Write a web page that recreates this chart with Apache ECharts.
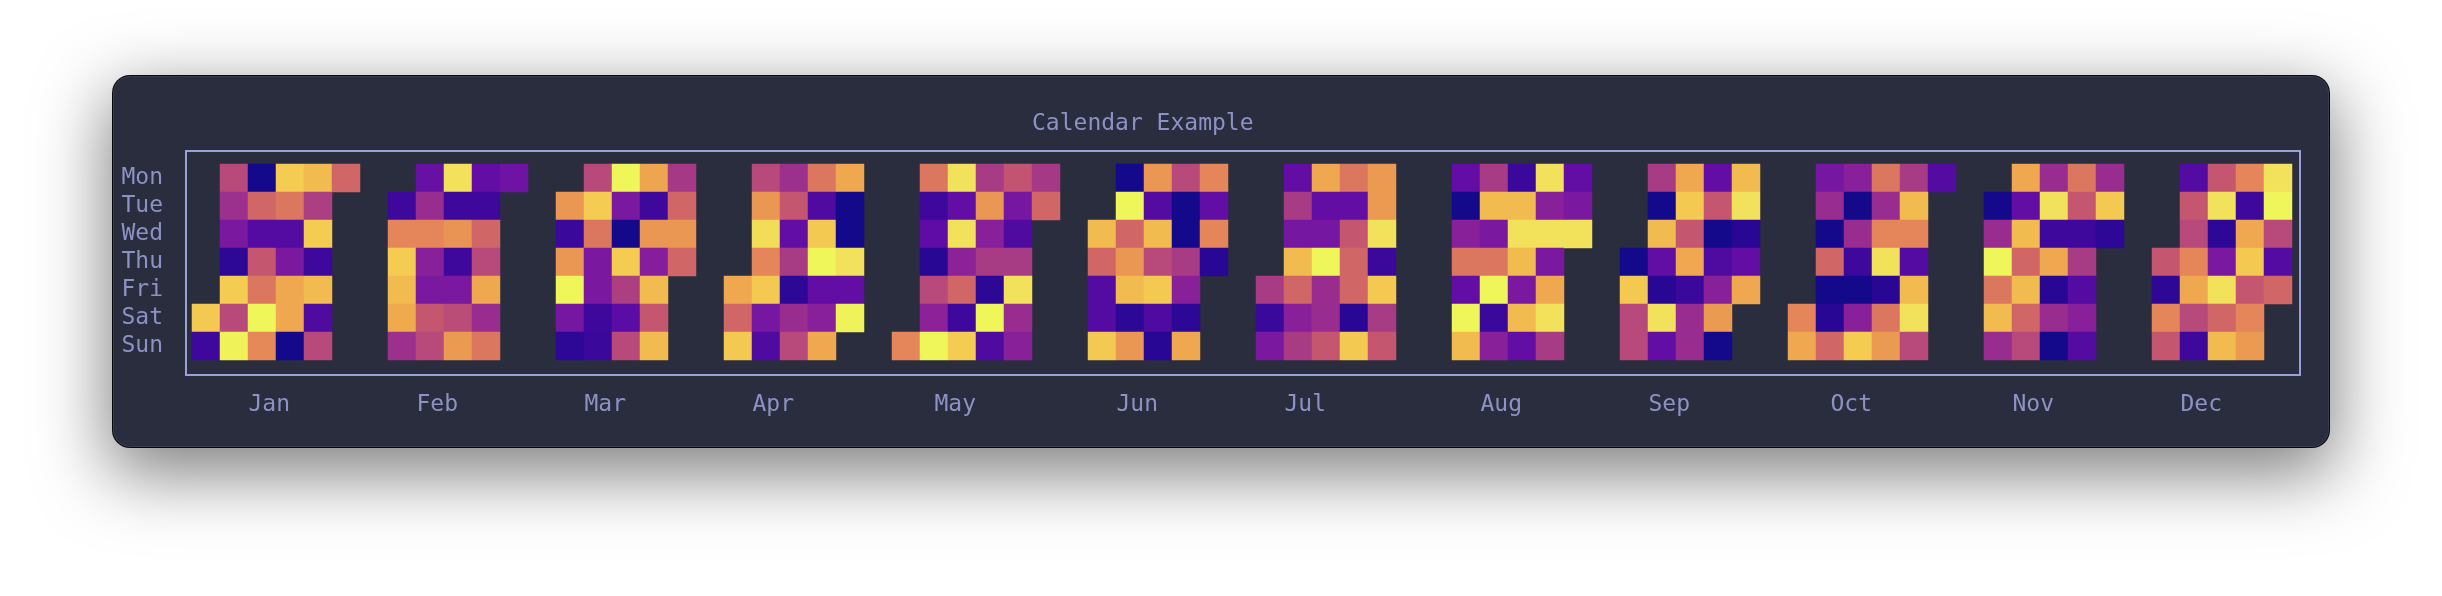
<!DOCTYPE html>
<html>
<head>
<meta charset="utf-8">
<script src="https://cdn.jsdelivr.net/npm/echarts@6/dist/echarts.min.js"></script>
<style>
html, body { margin: 0; padding: 0; background: #ffffff; width: 2442px; height: 596px; overflow: hidden; }
#panel {
  position: absolute; left: 112px; top: 75px; width: 2218px; height: 373px;
  box-sizing: border-box; background: #2a2d3e; border-radius: 18px;
  border: 1px solid rgba(0,0,0,0.8);
  box-shadow: 0 22px 70px 4px rgba(0,0,0,0.5), inset 0 0 0 1px rgba(255,255,255,0.08);
}
#chart { position: absolute; left: 0; top: 0; width: 2442px; height: 596px; }
</style>
</head>
<body>
<div id="panel"></div>
<div id="chart"></div>
<script>
// ---------------- data ----------------
const year = 2022;
const chartTitle = 'Calendar Example';
const monthNames = ['Jan', 'Feb', 'Mar', 'Apr', 'May', 'Jun', 'Jul', 'Aug', 'Sep', 'Oct', 'Nov', 'Dec'];
const weekdayNames = ['Mon', 'Tue', 'Wed', 'Thu', 'Fri', 'Sat', 'Sun'];

// daily values, day 1 .. last day with data
const jan = [89, 12, 46, 37, 27, 8, 90, 46, 99, 2, 57, 17, 51, 63, 100, 69, 90, 63, 17, 27, 79, 79, 2, 85, 42, 90, 12, 85, 16, 46, 57];
const feb = [12, 68, 90, 85, 80, 37, 22, 36, 68, 31, 27, 51, 46, 95, 12, 72, 12, 27, 47, 74, 21, 12, 57, 46, 79, 36, 63, 24];
const mar = [73, 11, 73, 100, 26, 8, 46, 90, 63, 27, 27, 12, 11, 100, 27, 2, 90, 42, 19, 46, 78, 12, 73, 30, 85, 51, 85, 40, 57, 73, 57];
const apr = [79, 57, 89, 46, 73, 94, 68, 89, 26, 16, 37, 51, 21, 41, 8, 36, 46, 63, 16, 89, 100, 21, 31, 79, 79, 2, 2, 95, 21, 99];
const may = [68, 63, 12, 20, 7, 46, 32, 100, 95, 21, 95, 32, 57, 12, 90, 41, 73, 31, 41, 8, 100, 16, 50, 26, 16, 41, 95, 36, 31, 40, 57];
const jun = [85, 57, 17, 17, 89, 2, 100, 57, 73, 85, 8, 73, 73, 17, 85, 46, 89, 16, 7, 46, 2, 2, 41, 31, 8, 79, 68, 21, 68, 7];
const jul = [41, 11, 27, 21, 41, 26, 85, 57, 31, 41, 79, 21, 26, 100, 36, 36, 51, 63, 21, 51, 57, 57, 7, 89, 74, 74, 95, 11, 89, 41, 51];
const aug = [21, 2, 31, 63, 21, 100, 85, 41, 85, 27, 63, 100, 11, 31, 11, 85, 95, 85, 27, 85, 21, 95, 31, 95, 27, 79, 95, 41, 21, 27, 95];
const sep = [2, 89, 46, 46, 41, 2, 85, 21, 7, 95, 21, 79, 89, 51, 79, 11, 36, 36, 21, 51, 2, 16, 31, 74, 2, 85, 95, 7, 21, 79];
const oct = [68, 79, 26, 36, 2, 57, 2, 7, 57, 31, 2, 36, 12, 2, 31, 90, 63, 36, 68, 95, 7, 63, 74, 41, 85, 68, 17, 85, 95, 46, 17];
const nov = [2, 36, 100, 63, 85, 36, 79, 21, 85, 57, 85, 57, 46, 36, 95, 12, 79, 7, 36, 2, 63, 51, 12, 41, 17, 31, 17, 36, 89, 8];
const dec = [51, 8, 68, 51, 17, 51, 46, 68, 79, 46, 12, 51, 95, 8, 27, 95, 57, 85, 68, 12, 79, 89, 51, 68, 74, 95, 100, 46, 17, 57];
const monthValues = [jan, feb, mar, apr, may, jun, jul, aug, sep, oct, nov, dec];

const valueMin = 0;
const valueMax = 100;

// ---------------- layout of the calendar ----------------
const MONTH_GAP = 2;          // extra empty week-columns added per month
const CELL_W = 28, CELL_H = 28;
const DAY = 86400000;
const jan1 = Date.UTC(year, 0, 1);
const jan1Wd = (new Date(jan1).getUTCDay() + 6) % 7;

const cells = [];
const monthLabelPos = [];
monthValues.forEach((vals, m) => {
  const isoCols = new Set();
  vals.forEach((v, i) => {
    const t = Date.UTC(year, m, i + 1);
    const wd = (new Date(t).getUTCDay() + 6) % 7;
    const doy = Math.round((t - jan1) / DAY);
    const col = Math.floor((doy + jan1Wd) / 7) + MONTH_GAP * m;
    cells.push([col, wd, v]);
    const thu = new Date(t + (3 - wd) * DAY);
    if (thu.getUTCFullYear() === year) isoCols.add(col);
  });
  const arr = Array.from(isoCols);
  monthLabelPos.push(arr.reduce((a, b) => a + b, 0) / arr.length + 0.5);
});
const nCols = Math.max.apply(null, cells.map(c => c[0])) + 1;
const colCategories = Array.from({ length: nCols }, (_, i) => String(i));

const textColor = '#8c93c4';
const fontFamily = '"DejaVu Sans Mono", monospace';
const ramp = ['#0d0887', '#1f0790', '#36079a', '#4b0a9f', '#5e0ca5', '#7215a2', '#851d9c', '#962a91',
  '#a53986', '#b4477c', '#c25471', '#cc6169', '#d56f62', '#df7c5d', '#e78c57', '#ec9e51',
  '#f0aa4e', '#f2bb50', '#f4cc52', '#f2e15a', '#eff65a'];

const gridLeft = 192, gridTop = 164;

const chart = echarts.init(document.getElementById('chart'), null, { renderer: 'canvas' });
chart.setOption({
  backgroundColor: 'transparent',
  animation: false,
  title: {
    text: chartTitle,
    left: 1027,
    top: 108,
    textStyle: { color: textColor, fontSize: 23, fontWeight: 'normal', fontFamily: fontFamily }
  },
  grid: { left: gridLeft, top: gridTop, width: nCols * CELL_W, height: 7 * CELL_H },
  xAxis: [
    { type: 'category', data: colCategories, show: false, splitArea: { show: false } },
    {
      type: 'value', min: 0, max: nCols, position: 'bottom',
      axisLine: { show: false }, axisTick: { show: false }, splitLine: { show: false },
      axisLabel: {
        customValues: monthLabelPos,
        formatter: function (v) {
          const idx = monthLabelPos.findIndex(p => Math.abs(p - v) < 1e-6);
          return idx >= 0 ? monthNames[idx] : '';
        },
        align: 'right',
        margin: 34,
        color: textColor, fontSize: 23, fontFamily: fontFamily
      }
    }
  ],
  yAxis: {
    type: 'category', data: weekdayNames, inverse: true,
    axisLine: { show: false }, axisTick: { show: false }, splitLine: { show: false },
    axisLabel: { interval: 0, margin: 29, color: textColor, fontSize: 23, fontFamily: fontFamily }
  },
  visualMap: {
    show: false, type: 'continuous', min: valueMin, max: valueMax, dimension: 2,
    inRange: { color: ramp }
  },
  series: [{
    type: 'heatmap',
    xAxisIndex: 0, yAxisIndex: 0,
    data: cells,
    itemStyle: { borderWidth: 0 },
    emphasis: { disabled: true },
    progressive: 0
  }],
  graphic: [{
    type: 'rect', silent: true,
    shape: { x: 186, y: 151, width: 2114, height: 224 },
    style: { fill: 'none', stroke: '#9aa1d6', lineWidth: 2 }
  }]
});
</script>
</body>
</html>
